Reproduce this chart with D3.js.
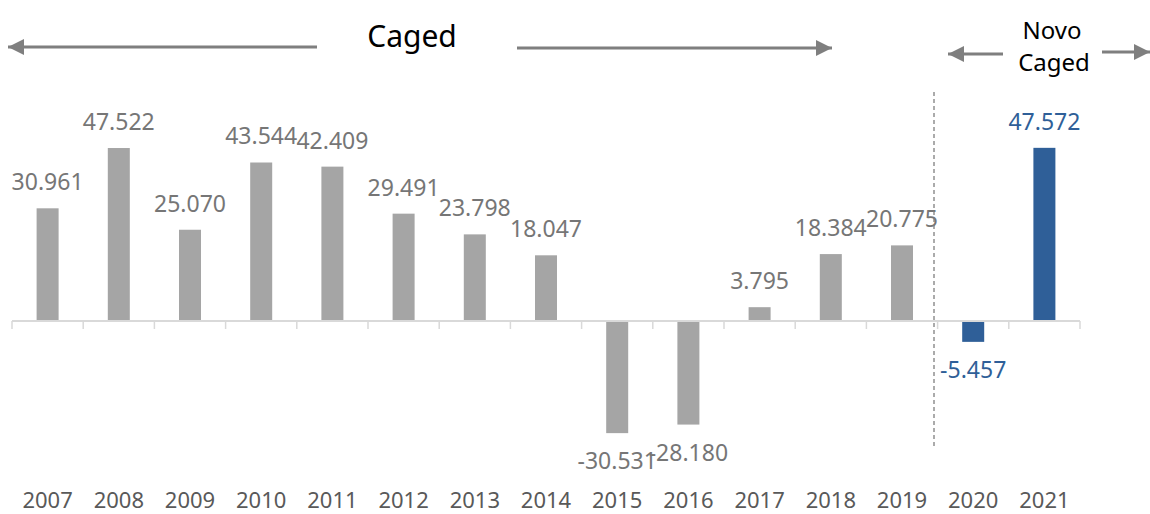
<!DOCTYPE html>
<html>
<head>
<meta charset="utf-8">
<script src="https://cdn.jsdelivr.net/npm/d3@7"></script>
<style>
  body { margin: 0; background: #fff; }
  text { font-family: "Segoe UI", "Noto Sans", sans-serif; }
</style>
</head>
<body>
<svg id="chart" width="1150" height="514"></svg>
<script>
const years = ['2007','2008','2009','2010','2011','2012','2013','2014','2015','2016','2017','2018','2019','2020','2021']
const values = [30.961, 47.522, 25.070, 43.544, 42.409, 29.491, 23.798, 18.047, -30.531, -28.180, 3.795, 18.384, 20.775, -5.457, 47.572]
const labels = ['30.961','47.522','25.070','43.544','42.409','29.491','23.798','18.047','-30.531','-28.180','3.795','18.384','20.775','-5.457','47.572']
const novoYears = ['2020','2021']

const svg = d3.select('#chart')
const grey = '#a5a5a5', blue = '#2f5f98'

const x = d3.scaleBand().domain(years).range([12, 1080])
const y = d3.scaleLinear().domain([-50, 60]).range([503, 102.6])
const barW = 22

const data = years.map((yr, i) => ({year: yr, value: values[i], label: labels[i], novo: novoYears.includes(yr)}))

// axis line + ticks at band edges
svg.append('line')
  .attr('x1', x.range()[0]).attr('x2', x.range()[1])
  .attr('y1', y(0)).attr('y2', y(0))
  .attr('stroke', '#d9d9d9').attr('stroke-width', 2)
const edges = years.map(d => x(d)).concat([x.range()[1]])
svg.append('g').selectAll('line').data(edges).enter().append('line')
  .attr('x1', d => d).attr('x2', d => d)
  .attr('y1', y(0)).attr('y2', y(0) + 8)
  .attr('stroke', '#d9d9d9').attr('stroke-width', 1.5)

// bars
svg.append('g').selectAll('rect').data(data).enter().append('rect')
  .attr('x', d => x(d.year) + x.bandwidth() / 2 - barW / 2)
  .attr('width', barW)
  .attr('y', d => d.value >= 0 ? y(d.value) : y(0) + 1)
  .attr('height', d => Math.abs(y(d.value) - y(0)) - (d.value >= 0 ? 1 : 0))
  .attr('fill', d => d.novo ? blue : grey)

// value labels
svg.append('g').selectAll('text').data(data).enter().append('text')
  .attr('x', d => x(d.year) + x.bandwidth() / 2)
  .attr('y', d => d.value >= 0 ? y(d.value) - 18 : y(d.value) + 37)
  .attr('text-anchor', 'middle')
  .style('font-size', '23px')
  .attr('fill', d => d.novo ? blue : '#767676')
  .text(d => d.label)

// year labels
svg.append('g').selectAll('text').data(years).enter().append('text')
  .attr('x', d => x(d) + x.bandwidth() / 2)
  .attr('y', 508)
  .attr('text-anchor', 'middle')
  .style('font-size', '22px')
  .attr('fill', '#595959')
  .text(d => d)

// divider between Caged and Novo Caged
svg.append('line')
  .attr('x1', 934).attr('x2', 934).attr('y1', 92).attr('y2', 447)
  .attr('stroke', '#7f7f7f').attr('stroke-width', 1.3).attr('stroke-dasharray', '4,3')

// arrows
svg.append('defs').append('marker')
  .attr('id', 'head').attr('viewBox', '0 0 10 10')
  .attr('refX', 10).attr('refY', 5)
  .attr('markerWidth', 17).attr('markerHeight', 16)
  .attr('markerUnits', 'userSpaceOnUse')
  .attr('orient', 'auto')
  .append('path').attr('d', 'M0,0L10,5L0,10Z').attr('fill', '#7f7f7f')

const arrows = [[317, 47, 8, 47], [517, 48, 832, 48], [1003, 54, 948, 54], [1102, 52, 1150, 52]]
svg.append('g').selectAll('line').data(arrows).enter().append('line')
  .attr('x1', d => d[0]).attr('y1', d => d[1])
  .attr('x2', d => d[2]).attr('y2', d => d[3])
  .attr('stroke', '#7f7f7f').attr('stroke-width', 3)
  .attr('marker-end', 'url(#head)')

svg.append('text').attr('x', 412).attr('y', 47)
  .attr('text-anchor', 'middle').style('font-size', '30px').attr('fill', '#000')
  .text('Caged')
svg.append('text').attr('x', 1052).attr('y', 39)
  .attr('text-anchor', 'middle').style('font-size', '24px').attr('fill', '#000')
  .text('Novo')
svg.append('text').attr('x', 1054).attr('y', 71)
  .attr('text-anchor', 'middle').style('font-size', '24px').attr('fill', '#000')
  .text('Caged')
</script>
</body>
</html>
